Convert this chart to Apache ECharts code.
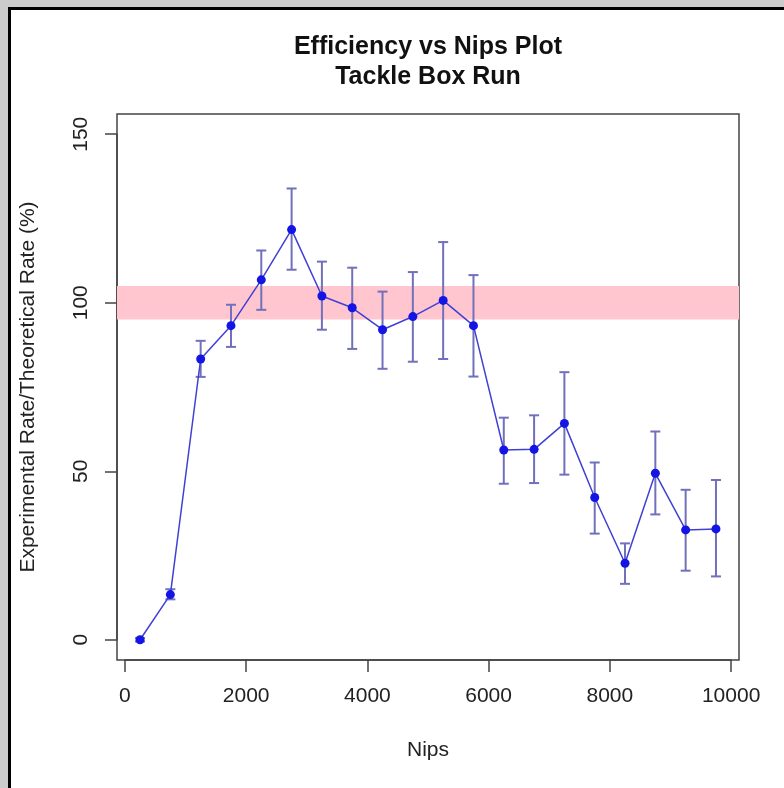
<!DOCTYPE html>
<html>
<head>
<meta charset="utf-8">
<script src="https://cdn.jsdelivr.net/npm/echarts@6/dist/echarts.min.js"></script>
<style>
  html, body { margin:0; padding:0; width:784px; height:788px; background:#cccccc; overflow:hidden; }
  #frame { position:absolute; left:8px; top:7px; right:0; bottom:0; background:#ffffff;
           border-left:3px solid #000; border-top:3px solid #000; }
  #chart { position:absolute; left:0; top:0; width:784px; height:788px; }
</style>
</head>
<body>
<div id="frame"></div>
<div id="chart"></div>
<script>
// ---- data ----
const nips = [250, 750, 1250, 1750, 2250, 2750, 3250, 3750, 4250, 4750,
              5250, 5750, 6250, 6750, 7250, 7750, 8250, 8750, 9250, 9750];
const efficiency = [0, 13.4, 83.3, 93.2, 106.8, 121.7, 102, 98.5, 92, 95.9,
                    100.7, 93.2, 56.3, 56.5, 64.2, 42.2, 22.7, 49.4, 32.6, 32.9];
const errUpper = [0.5, 15, 88.7, 99.4, 115.5, 133.9, 112.2, 110.4, 103.3, 109.1,
                  118, 108.2, 65.9, 66.6, 79.4, 52.6, 28.6, 61.8, 44.5, 47.4];
const errLower = [-0.5, 12, 78, 86.9, 97.9, 109.8, 92, 86.3, 80.4, 82.5,
                  83.3, 78.1, 46.3, 46.5, 49, 31.5, 16.6, 37.2, 20.5, 18.8];
const bandLow = 95;
const bandHigh = 105;
const titleLines = ['Efficiency vs Nips Plot', 'Tackle Box Run'];
const xName = 'Nips';
const yName = 'Experimental Rate/Theoretical Rate (%)';

// ---- layout ----
const FONT = '"Liberation Sans", Arial, Helvetica, sans-serif';
const box = { left:117, top:114, right:739, bottom:660 };
const xr = [-130, 10130], yr = [-6, 156];
const pxX = (box.right - box.left) / (xr[1] - xr[0]);
const pxY = (box.bottom - box.top) / (yr[1] - yr[0]);
const x0 = box.left + (0 - xr[0]) * pxX;
const x10k = x0 + 10000 * pxX;
const y0 = box.bottom - (0 - yr[0]) * pxY;
const y150 = y0 - 150 * pxY;

const axisColor = '#444';
const errColor = '#7070bc';
const lineColor = '#4040d4';
const pointColor = '#1414e4';
const plain = v => String(v);

const chart = echarts.init(document.getElementById('chart'), null, { renderer:'canvas' });

const lineData = nips.map((x, i) => [x, efficiency[i]]);
const errData = nips.map((x, i) => [x, errLower[i], errUpper[i]]);

const hiddenY = (g) => ({ gridIndex:g, type:'value', min:0, max:1, show:false });
const hiddenX = (g) => ({ gridIndex:g, type:'value', min:0, max:1, show:false });

chart.setOption({
  animation: false,
  backgroundColor: 'transparent',
  textStyle: { fontFamily: FONT },
  graphic: [
    { type:'text', x:428, y:47, style:{ text:titleLines[0], font:'bold 25px ' + FONT,
      fill:'#111', textAlign:'center', textVerticalAlign:'middle' } },
    { type:'text', x:428, y:77, style:{ text:titleLines[1], font:'bold 25px ' + FONT,
      fill:'#111', textAlign:'center', textVerticalAlign:'middle' } }
  ],
  grid: [
    // plot box (data)
    { left:box.left, top:box.top, width:box.right - box.left, height:box.bottom - box.top,
      show:true, borderColor:axisColor, borderWidth:1.5, backgroundColor:'transparent' },
    // x axis ticks: 0..10000 along the box bottom
    { left:x0, top:box.top, width:x10k - x0, height:box.bottom - box.top },
    // y axis ticks: 0..150 along the box left
    { left:box.left, top:y150, width:box.right - box.left, height:y0 - y150 }
  ],
  xAxis: [
    { gridIndex:0, type:'value', min:xr[0], max:xr[1], show:false },
    { gridIndex:1, type:'value', min:0, max:10000, interval:2000,
      axisLine:{ show:true, lineStyle:{ color:axisColor, width:1.5 } },
      axisTick:{ show:true, length:12, lineStyle:{ color:axisColor, width:1.5 } },
      axisLabel:{ fontSize:21, color:'#222', margin:26, fontFamily:FONT, formatter:plain },
      splitLine:{ show:false },
      name:xName, nameLocation:'middle', nameGap:80,
      nameTextStyle:{ fontSize:21, color:'#222', fontFamily:FONT } },
    hiddenX(2)
  ],
  yAxis: [
    { gridIndex:0, type:'value', min:yr[0], max:yr[1], show:false },
    hiddenY(1),
    { gridIndex:2, type:'value', min:0, max:150, interval:50,
      axisLine:{ show:true, lineStyle:{ color:axisColor, width:1.5 } },
      axisTick:{ show:true, length:12, lineStyle:{ color:axisColor, width:1.5 } },
      axisLabel:{ fontSize:21, color:'#222', margin:25, rotate:90, fontFamily:FONT, formatter:plain },
      splitLine:{ show:false },
      name:yName, nameLocation:'middle', nameGap:78,
      nameTextStyle:{ fontSize:21, color:'#222', fontFamily:FONT } }
  ],
  series: [
    { type:'line', xAxisIndex:0, yAxisIndex:0, data:[], silent:true,
      markArea:{ silent:true, itemStyle:{ color:'#ffc6cf' },
        data:[[ { yAxis:bandLow }, { yAxis:bandHigh } ]] } },
    { type:'custom', xAxisIndex:0, yAxisIndex:0, data:errData, z:3,
      encode:{ x:0, y:[1,2] },
      renderItem: function (params, api) {
        const x = api.value(0);
        const lo = api.coord([x, api.value(1)]);
        const hi = api.coord([x, api.value(2)]);
        const w = 5;
        const st = { stroke:errColor, lineWidth:2 };
        return { type:'group', children:[
          { type:'line', shape:{ x1:lo[0], y1:lo[1], x2:hi[0], y2:hi[1] }, style:st },
          { type:'line', shape:{ x1:lo[0]-w, y1:lo[1], x2:lo[0]+w, y2:lo[1] }, style:st },
          { type:'line', shape:{ x1:hi[0]-w, y1:hi[1], x2:hi[0]+w, y2:hi[1] }, style:st }
        ]};
      } },
    { type:'line', xAxisIndex:0, yAxisIndex:0, data:lineData, z:4,
      symbol:'circle', symbolSize:9, showSymbol:true,
      lineStyle:{ color:lineColor, width:1.5 },
      itemStyle:{ color:pointColor } }
  ]
});
</script>
</body>
</html>
